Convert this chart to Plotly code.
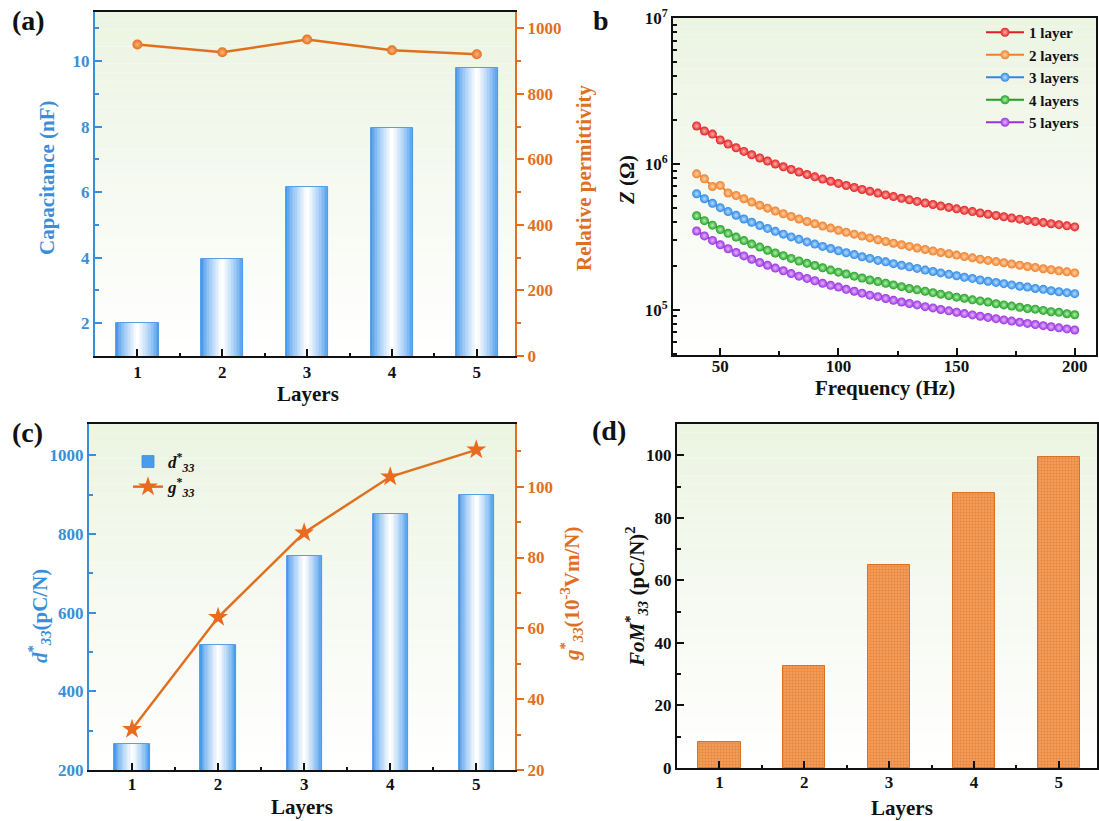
import plotly.graph_objects as go

W, H = 1099, 821
FONT = "Liberation Serif"
BLUE = "#3A8ED8"
ORANGE = "#E0701F"
BLACK = "#111111"

# ---------------- data ----------------
# (a)
layers = [1, 2, 3, 4, 5]
capacitance_nf = [2.0, 3.95, 6.15, 7.95, 9.8]
rel_permittivity = [951, 927, 966, 933, 921]

# (b)
freq_hz = [40, 43.3, 46.7, 50, 53.3, 56.7, 60, 63.3, 66.7, 70, 73.3, 76.7, 80, 83.3, 86.7,
           90, 93.3, 96.7, 100, 103.3, 106.7, 110, 113.3, 116.7, 120, 123.3, 126.7, 130,
           133.3, 136.7, 140, 143.3, 146.7, 150, 153.3, 156.7, 160, 163.3, 166.7, 170,
           173.3, 176.7, 180, 183.3, 186.7, 190, 193.3, 196.7, 200]
z_1_layer_kohm = [1820, 1681, 1600, 1459, 1369, 1289, 1218, 1155, 1098, 1046, 999, 956, 916,
                  880, 846, 815, 787, 760, 735, 711, 689, 668, 649, 631, 613, 597, 581, 567,
                  553, 539, 527, 514, 503, 492, 481, 471, 461, 452, 443, 434, 426, 418, 410,
                  403, 396, 389, 383, 376, 370]
z_2_layers_kohm = [855, 791, 700, 712, 632, 607, 577, 547, 521, 497, 475, 455, 436, 419, 403,
                   389, 375, 363, 351, 340, 330, 320, 311, 302, 294, 286, 279, 272, 265, 259,
                   253, 247, 242, 237, 232, 227, 222, 218, 214, 210, 206, 202, 198, 195, 191,
                   188, 185, 182, 179]
z_3_layers_kohm = [624, 577, 537, 501, 471, 444, 419, 398, 378, 361, 345, 330, 316, 304, 292,
                   282, 272, 263, 254, 246, 239, 231, 225, 218, 213, 207, 202, 197, 192, 187,
                   183, 179, 175, 171, 167, 164, 160, 157, 154, 151, 148, 145, 143, 140, 138,
                   135, 133, 131, 129]
z_4_layers_kohm = [441, 408, 380, 355, 334, 315, 298, 282, 269, 256, 245, 235, 225, 216, 208,
                   201, 194, 187, 181, 176, 170, 165, 160, 156, 152, 148, 144, 140, 137, 134,
                   131, 128, 125, 122, 120, 117, 115, 113, 110, 108, 106, 104, 102, 101, 99,
                   97, 96, 94, 92.5]
z_5_layers_kohm = [347, 321, 299, 279, 262, 247, 234, 222, 211, 202, 193, 185, 177, 170, 164,
                   158, 152, 147, 143, 138, 134, 130, 126, 123, 119.5, 116, 113, 110.5, 108,
                   105, 103, 100.5, 98.3, 96.2, 94.2, 92.2, 90.3, 88.6, 86.9, 85.2, 83.6,
                   82.1, 80.6, 79.2, 77.8, 76.5, 75.2, 73.9, 72.7]
z_series = [("1 layer", z_1_layer_kohm), ("2 layers", z_2_layers_kohm),
            ("3 layers", z_3_layers_kohm), ("4 layers", z_4_layers_kohm),
            ("5 layers", z_5_layers_kohm)]
z_colors = ["#E0201F", "#EF7F2A", "#2D89E6", "#22A022", "#9B30E0"]
z_centers = ["#FFB0B0", "#FFD2A8", "#B8DCFF", "#B0F0B0", "#E2B8FF"]
z_tick_vals = [1e5, 1e6, 1e7]
z_tick_text = ["10<sup>5</sup>", "10<sup>6</sup>", "10<sup>7</sup>"]

# (c)
d33_pcn = [265, 518, 745, 850, 900]
g33_vmn = [31.5, 63.1, 87.0, 102.8, 110.4]

# (d)
fom33 = [8.3, 32.6, 64.9, 87.9, 99.4]


def px(x):
    return x / W


def py(y):
    return 1 - y / H


def mix(c1, c2, t):
    return "rgb(%d,%d,%d)" % tuple(round(a + (b - a) * t) for a, b in zip(c1, c2))


fig = go.Figure()

EDGE = (74, 155, 236)
WHITE = (255, 255, 255)


def gradient_bars(x, y, width, xa, ya, name=None, legend=None):
    n = 14
    for k in range(n):
        t = (k / (n - 1)) ** 0.8
        w = width * (1 - k / n)
        fig.add_trace(go.Bar(
            x=x, y=y, width=w, xaxis=xa, yaxis=ya,
            marker=dict(color=mix(EDGE, WHITE, t),
                        line=dict(width=0.8 if k == 0 else 0, color="rgb(60,140,225)")),
            showlegend=(k == 0 and name is not None), name=name or "",
            legend=legend, hoverinfo="skip" if k else None,
        ))


# ---------------- (a) ----------------
gradient_bars(layers, capacitance_nf, 0.5, "x", "y")
fig.add_trace(go.Scatter(
    x=layers, y=rel_permittivity, xaxis="x", yaxis="y2", mode="lines+markers",
    line=dict(color=ORANGE, width=2.5),
    marker=dict(size=10, color=ORANGE, gradient=dict(type="radial", color="#FFB27A")),
    showlegend=False))

# ---------------- (b) ----------------
for (nm, vals), col, cen in zip(z_series, z_colors, z_centers):
    fig.add_trace(go.Scatter(
        x=freq_hz, y=[v * 1000 for v in vals], xaxis="x2", yaxis="y3",
        mode="lines+markers", name=nm, legend="legend",
        line=dict(color=col, width=2),
        marker=dict(size=9, color=col, gradient=dict(type="radial", color=cen))))

# ---------------- (c) ----------------
gradient_bars(layers, d33_pcn, 0.41, "x3", "y4",
              name="<i>d</i><sup>*</sup><sub><i>33</i></sub>", legend="legend2")
fig.add_trace(go.Scatter(
    x=layers, y=g33_vmn, xaxis="x3", yaxis="y5", mode="lines+markers",
    name="<i>g</i><sup>*</sup><sub><i>33</i></sub>", legend="legend2",
    line=dict(color=ORANGE, width=2.5),
    marker=dict(symbol="star", size=15, color="#EA6A1E")))

# ---------------- (d) ----------------
fig.add_trace(go.Bar(
    x=layers, y=fom33, width=0.5, xaxis="x4", yaxis="y6",
    marker=dict(color="#F09550",
                line=dict(color="#DC6F22", width=1),
                pattern=dict(shape="+", fgcolor="#DC6F22", bgcolor="#F29C5A",
                             size=3, solidity=0.35)),
    showlegend=False))

# ---------------- axes ----------------
tickfont_k = dict(family=FONT, size=17, color=BLACK, weight="bold")


def xcat(domain, anchor, standoff=0):
    return dict(domain=domain, anchor=anchor, range=[0.5, 5.45], tick0=1, dtick=1,
                ticks="inside", ticklen=7, tickwidth=2, tickcolor=BLACK,
                showline=True, linewidth=2, linecolor=BLACK, mirror=True,
                showgrid=False, zeroline=False, tickfont=tickfont_k, automargin=False,
                ticklabelstandoff=standoff,
                minor=dict(ticks="inside", ticklen=3, tickwidth=2, dtick=0.5,
                           tick0=0.5, tickcolor=BLACK))


def ylin(domain, anchor, rng, dtick, minor, color, side="left", overlaying=None,
         ticks="inside", mirror=False):
    d = dict(domain=domain, anchor=anchor, range=rng, tick0=0, dtick=dtick,
             ticks=ticks, ticklen=7, tickwidth=2, tickcolor=color,
             showline=True, linewidth=2, linecolor=color, mirror=mirror,
             showgrid=False, zeroline=False, side=side, automargin=False,
             tickfont=dict(family=FONT, size=17, color=color, weight="bold"),
             minor=dict(ticks=ticks, ticklen=4, tickwidth=2, dtick=minor,
                        tickcolor=color))
    if overlaying:
        d["overlaying"] = overlaying
        d.pop("domain")
    return d


dom_a_x = [px(95), px(515)]
dom_a_y = [py(356), py(12)]
dom_b_x = [px(673), px(1096)]
dom_b_y = [py(355), py(18)]
dom_c_x = [px(89), px(515)]
dom_c_y = [py(770), py(424)]
dom_d_x = [px(677), px(1097)]
dom_d_y = [py(768), py(424)]

log_minor = [m * 10 ** e for e in (4, 5, 6) for m in range(2, 10)]

fig.update_layout(
    xaxis=xcat(dom_a_x, "y"),
    yaxis=ylin(dom_a_y, "x", [1, 11.5], 2, 1, BLUE),
    yaxis2=ylin(None, "x", [0, 1050], 200, 100, ORANGE, side="right",
                overlaying="y", ticks="outside"),
    xaxis2=dict(domain=dom_b_x, anchor="y3", range=[30, 209], tick0=0, dtick=50,
                ticks="inside", ticklen=7, tickwidth=2, tickcolor=BLACK,
                showline=True, linewidth=2, linecolor=BLACK, mirror=True,
                showgrid=False, zeroline=False, tickfont=tickfont_k, automargin=False,
                ticklabelstandoff=-5,
                minor=dict(ticks="inside", ticklen=4, tickwidth=2, dtick=25,
                           tickcolor=BLACK)),
    yaxis3=dict(domain=dom_b_y, anchor="x2", type="log", range=[4.69, 7],
                tickmode="array", tickvals=z_tick_vals, ticktext=z_tick_text,
                ticks="inside", ticklen=7, tickwidth=2,
                tickcolor=BLACK, showline=True, linewidth=2, linecolor=BLACK,
                mirror=True, showgrid=False, zeroline=False, tickfont=tickfont_k,
                automargin=False,
                minor=dict(ticks="inside", ticklen=4, tickwidth=1.5, tickmode="array",
                           tickvals=log_minor, tickcolor=BLACK)),
    xaxis3=xcat(dom_c_x, "y4", standoff=-2),
    yaxis4=ylin(dom_c_y, "x3", [200, 1080], 200, 100, BLUE),
    yaxis5=ylin(None, "x3", [20, 117.7], 20, 10, ORANGE, side="right",
                overlaying="y4", ticks="outside"),
    xaxis4=xcat(dom_d_x, "y6", standoff=-2),
    yaxis6=ylin(dom_d_y, "x4", [0, 110], 20, 10, BLACK, mirror=True),
)

# ---------------- background gradients ----------------
shapes = []
TOP = (236, 244, 226)
N = 40
for xr, yr in [("x domain", "y domain"), ("x2 domain", "y3 domain"),
               ("x3 domain", "y4 domain"), ("x4 domain", "y6 domain")]:
    for i in range(N):
        t = i / (N - 1)
        shapes.append(dict(type="rect", xref=xr, yref=yr, x0=0, x1=1,
                           y0=1 - (i + 1) / N, y1=1 - i / N, layer="below",
                           line=dict(width=0), fillcolor=mix(TOP, WHITE, t)))

# ---------------- texts ----------------
ann = []


def text(x, y, s, color=BLACK, size=21, angle=0, xanchor="center"):
    ann.append(dict(x=px(x), y=py(y), xref="paper", yref="paper", text=s,
                    showarrow=False, textangle=angle, xanchor=xanchor, yanchor="middle",
                    font=dict(family=FONT, size=size, color=color, weight="bold")))


text(10, 20, "(a)", size=28, xanchor="left")
text(591, 21, "b", size=28, xanchor="left")
text(10, 432, "(c)", size=28, xanchor="left")
text(590, 431, "(d)", size=28, xanchor="left")

text(47, 178, "Capacitance (nF)", color=BLUE, angle=-90)
text(584, 178, "Relative permittivity", color=ORANGE, angle=-90)
text(308, 394, "Layers")
text(627, 180, "<i>Z</i> (Ω)", angle=-90)
text(885, 388, "Frequency (Hz)")
text(39, 616, "<i>d</i><sup>*</sup><sub><i>33</i></sub>(pC/N)", color=BLUE, angle=-90)
text(571, 594, "<i>g</i><sup>*</sup><sub><i>33</i></sub>(10<sup>-3</sup>Vm/N)",
     color=ORANGE, angle=-90)
text(302, 807, "Layers")
text(636, 597, "<i>FoM</i><sup>*</sup><sub><i>33</i></sub> (pC/N)<sup>2</sup>", angle=-90)
text(902, 808, "Layers")

fig.update_layout(
    width=W, height=H, margin=dict(l=0, r=0, t=0, b=0, autoexpand=False),
    paper_bgcolor="white", plot_bgcolor="white",
    barmode="overlay", bargap=0,
    shapes=shapes, annotations=ann,
    font=dict(family=FONT, color=BLACK),
    legend=dict(x=px(981), y=py(16), xanchor="left", yanchor="top",
                bgcolor="rgba(0,0,0,0)", itemwidth=38,
                font=dict(family=FONT, size=15, color=BLACK, weight="bold")),
    legend2=dict(x=px(128), y=py(444), xanchor="left", yanchor="top",
                 bgcolor="rgba(0,0,0,0)", itemwidth=30,
                 font=dict(family=FONT, size=17, color=BLACK, weight="bold")),
)

fig.write_html("out.html", config={"displayModeBar": False},
               post_script="document.body.style.margin='0';document.body.style.overflow='hidden';")
